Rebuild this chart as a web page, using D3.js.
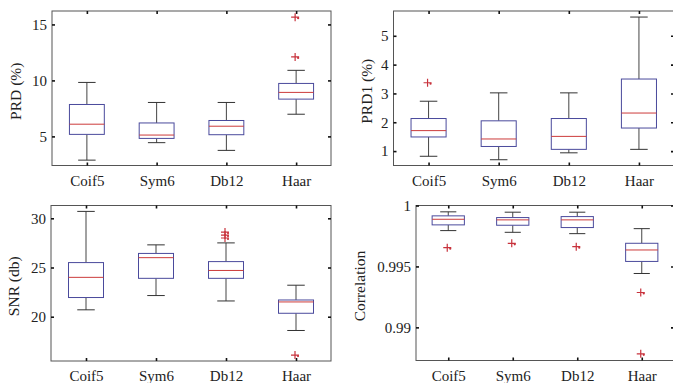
<!DOCTYPE html>
<html>
<head>
<meta charset="utf-8">
<script src="https://cdn.jsdelivr.net/npm/d3@7"></script>
<style>
  html, body { margin: 0; padding: 0; background: #fff; }
  svg { display: block; }
  text { font-family: "Liberation Serif", "Times New Roman", serif; fill: #222; }
</style>
</head>
<body>
<svg id="chart" width="673" height="383"></svg>
<script>
// ---- data ----
const categories = ["Coif5", "Sym6", "Db12", "Haar"];

// five-number summaries per category: [lowWhisker, q1, median, q3, highWhisker]
const prdStats  = [[2.88, 5.18, 6.09, 7.85, 9.82], [4.44, 4.82, 5.12, 6.20, 8.03], [3.75, 5.15, 5.91, 6.42, 8.03], [6.98, 8.33, 8.93, 9.73, 10.9]];
const prdOutliers = [[], [], [], [12.1, 15.65]];
const prdTicks = [5, 10, 15];

const prd1Stats = [[0.82, 1.49, 1.71, 2.13, 2.73], [0.70, 1.16, 1.42, 2.05, 3.02], [0.94, 1.06, 1.51, 2.13, 3.02], [1.06, 1.80, 2.32, 3.50, 5.65]];
const prd1Outliers = [[3.37], [], [], []];
const prd1Ticks = [1, 2, 3, 4, 5];

const snrStats  = [[20.7, 21.95, 24.0, 25.5, 30.7], [22.15, 23.9, 26.0, 26.43, 27.3], [21.6, 23.9, 24.7, 25.6, 27.5], [18.6, 20.35, 21.5, 21.7, 23.2]];
const snrOutliers = [[], [], [28.0, 28.3, 28.6], [16.1]];
const snrTicks = [20, 25, 30];

const corrStats = [[0.99794, 0.99841, 0.99887, 0.99915, 0.99948], [0.9978, 0.99838, 0.99882, 0.99901, 0.99945], [0.99769, 0.99819, 0.99882, 0.99909, 0.99945], [0.99442, 0.99541, 0.99635, 0.9969, 0.9981]];
const corrOutliers = [[0.99654], [0.9969], [0.99662], [0.99286, 0.98783]];
const corrTicks = [0.99, 0.995, 1];

const panels = [
  { label: "PRD (%)",  stats: prdStats,  outliers: prdOutliers,  ticks: prdTicks,  domain: [2.4, 16.2],
    box: { left: 52, right: 331, top: 11, bottom: 165.5 }, labelX: 16 },
  { label: "PRD1 (%)", stats: prd1Stats, outliers: prd1Outliers, ticks: prd1Ticks, domain: [0.5, 5.86],
    box: { left: 393.5, right: 674, top: 11, bottom: 165.5 }, labelX: 367 },
  { label: "SNR (db)", stats: snrStats,  outliers: snrOutliers,  ticks: snrTicks,  domain: [15.5, 31.3],
    box: { left: 51, right: 331, top: 205.5, bottom: 361 }, labelX: 14 },
  { label: "Correlation", stats: corrStats, outliers: corrOutliers, ticks: corrTicks, domain: [0.98728, 1.0],
    box: { left: 416, right: 674, top: 205.5, bottom: 360.5 }, labelX: 360 }
];

const svg = d3.select("#chart");
const FONT = 15;

panels.forEach(p => {
  const b = p.box;
  const x = d3.scalePoint().domain(categories).range([b.left, b.right]).padding(0.5);
  const y = d3.scaleLinear().domain(p.domain).range([b.bottom, b.top]);
  const g = svg.append("g");
  const boxW = x.step() * 0.5;
  const capW = boxW * 0.5;

  // frame
  g.append("rect").attr("x", b.left).attr("y", b.top)
    .attr("width", b.right - b.left).attr("height", b.bottom - b.top)
    .attr("fill", "none").attr("stroke", "#555").attr("stroke-width", 1);

  // axes (inward ticks)
  const styleAxis = sel => {
    sel.select(".domain").remove();
    sel.selectAll(".tick line").attr("stroke", "#111").attr("stroke-width", 1.6);
    sel.selectAll("text").style("font-family", "Liberation Serif, serif").style("font-size", FONT + "px").attr("fill", "#222");
  };
  g.append("g").attr("transform", `translate(${b.left},0)`)
    .call(d3.axisLeft(y).tickValues(p.ticks).tickSize(-3).tickPadding(5).tickFormat(d3.format("")))
    .call(styleAxis);
  g.append("g").attr("transform", `translate(${b.right},0)`)
    .call(d3.axisRight(y).tickValues(p.ticks).tickSize(-3).tickFormat(""))
    .call(styleAxis);
  const bx = g.append("g").attr("transform", `translate(0,${b.bottom})`)
    .call(d3.axisBottom(x).tickSize(-3).tickPadding(8))
    .call(styleAxis);
  bx.selectAll("text").attr("y", 20).attr("dy", null);
  g.append("g").attr("transform", `translate(0,${b.top})`)
    .call(d3.axisTop(x).tickSize(-3).tickFormat(""))
    .call(styleAxis);

  // y label
  const cy = (b.top + b.bottom) / 2 + 3;
  g.append("text")
    .attr("transform", `translate(${p.labelX},${cy}) rotate(-90)`)
    .attr("text-anchor", "middle").attr("dy", "0.35em")
    .style("font-size", (FONT + 0.5) + "px")
    .text(p.label);

  // boxes
  p.stats.forEach((s, i) => {
    const cx = x(categories[i]);
    const [lo, q1, med, q3, hi] = s;
    const wg = g.append("g");
    // whiskers
    wg.append("line").attr("x1", cx).attr("x2", cx).attr("y1", y(q3)).attr("y2", y(hi))
      .attr("stroke", "#444").attr("stroke-width", 1);
    wg.append("line").attr("x1", cx).attr("x2", cx).attr("y1", y(q1)).attr("y2", y(lo))
      .attr("stroke", "#444").attr("stroke-width", 1);
    wg.append("line").attr("x1", cx - capW / 2).attr("x2", cx + capW / 2).attr("y1", y(hi)).attr("y2", y(hi))
      .attr("stroke", "#333").attr("stroke-width", 1);
    wg.append("line").attr("x1", cx - capW / 2).attr("x2", cx + capW / 2).attr("y1", y(lo)).attr("y2", y(lo))
      .attr("stroke", "#333").attr("stroke-width", 1);
    // box
    wg.append("rect").attr("x", cx - boxW / 2).attr("y", y(q3))
      .attr("width", boxW).attr("height", y(q1) - y(q3))
      .attr("fill", "#fff").attr("stroke", "#4a4a9c").attr("stroke-width", 1);
    // median
    wg.append("line").attr("x1", cx - boxW / 2).attr("x2", cx + boxW / 2).attr("y1", y(med)).attr("y2", y(med))
      .attr("stroke", "#cc3b3b").attr("stroke-width", 1);
    // outliers
    p.outliers[i].forEach(v => {
      const oy = y(v), ox = cx - 1;
      wg.append("path").attr("d", `M${ox - 4},${oy}H${ox + 4}M${ox},${oy - 4}V${oy + 4}`)
        .attr("stroke", "#c8323c").attr("stroke-width", 1.2).attr("fill", "none");
      wg.append("circle").attr("cx", ox + 3).attr("cy", oy + 1).attr("r", 1.1).attr("fill", "#c8323c");
    });
  });
});
</script>
</body>
</html>
